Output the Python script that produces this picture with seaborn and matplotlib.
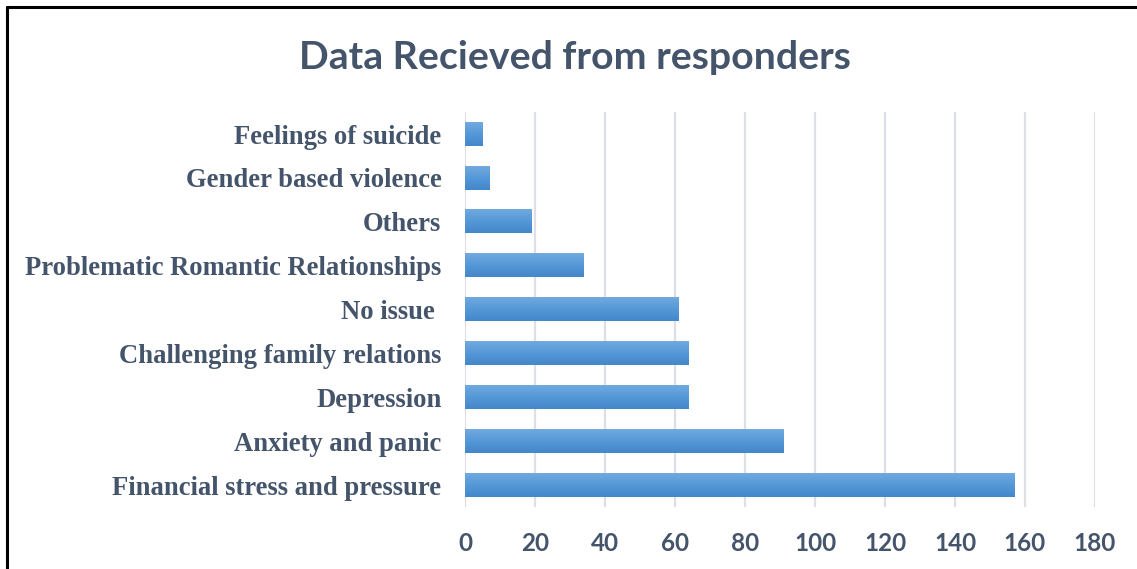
import numpy as np
import pandas as pd
import matplotlib
matplotlib.use("Agg")
import matplotlib.pyplot as plt
import seaborn as sns
from matplotlib.lines import Line2D
from matplotlib.colors import LinearSegmentedColormap

categories = [
    "Feelings of suicide",
    "Gender based violence",
    "Others",
    "Problematic Romantic Relationships",
    "No issue ",
    "Challenging family relations",
    "Depression",
    "Anxiety and panic",
    "Financial stress and pressure",
]
counts = [5, 7, 19, 34, 61, 64, 64, 91, 157]
x_ticks = [0, 20, 40, 60, 80, 100, 120, 140, 160, 180]
title = "Data Recieved from responders"

TEXT = "#44546a"
GRID = "#dcdfe6"

sns.set_theme(style="white")
plt.rcParams["font.family"] = ["Lato", "DejaVu Sans"]

df = pd.DataFrame({"category": categories, "count": counts})

fig = plt.figure(figsize=(11.37, 5.69), dpi=100)
ax = fig.add_axes([0.409, 0.109, 0.554, 0.694])

sns.barplot(data=df, y="category", x="count", order=categories,
            color="#5b9bd5", width=0.53, ax=ax, saturation=1, zorder=3)

cmap = LinearSegmentedColormap.from_list("g", ["#72a9de", "#5598d8", "#4487ca"])
grad = np.linspace(0, 1, 64).reshape(-1, 1)
for p in list(ax.patches):
    x0, y0 = p.get_x(), p.get_y()
    w, h = p.get_width(), p.get_height()
    ax.imshow(grad, cmap=cmap, extent=[x0, x0 + w, y0 + h, y0],
              origin="upper", aspect="auto", zorder=4, interpolation="bilinear")
    p.set_visible(False)

ax.set_xlim(0, 180)
ax.set_ylim(len(categories) - 0.5, -0.5)
ax.set_xticks(x_ticks)
ax.set_xticklabels([str(v) for v in x_ticks])
ax.grid(axis="x", color=GRID, linewidth=1.6, zorder=0)
ax.set_axisbelow(True)
for s in ax.spines.values():
    s.set_visible(False)
ax.set_xlabel("")
ax.set_ylabel("")
ax.tick_params(axis="x", length=0, pad=18, labelsize=17.5, labelcolor=TEXT)
ax.tick_params(axis="y", length=0, pad=17, labelcolor=TEXT)
for lab in ax.get_xticklabels():
    lab.set_fontweight("bold")
    lab.set_family(["Lato", "DejaVu Sans"])
for lab in ax.get_yticklabels():
    lab.set_fontweight("bold")
    lab.set_family(["Liberation Serif", "DejaVu Serif"])
    lab.set_fontsize(19.2)

fig.text(0.506, 0.899, title, ha="center", va="center", fontsize=28.3,
         fontweight="bold", color=TEXT, family=["Lato", "DejaVu Sans"])

# outer frame (top and left)
fig.add_artist(Line2D([0.0062, 0.0062], [0.0, 0.9875], transform=fig.transFigure,
                      color="black", linewidth=2.2))
fig.add_artist(Line2D([0.0062, 1.0], [0.9875, 0.9875], transform=fig.transFigure,
                      color="black", linewidth=2.2))

fig.savefig("out.png", dpi=100)
